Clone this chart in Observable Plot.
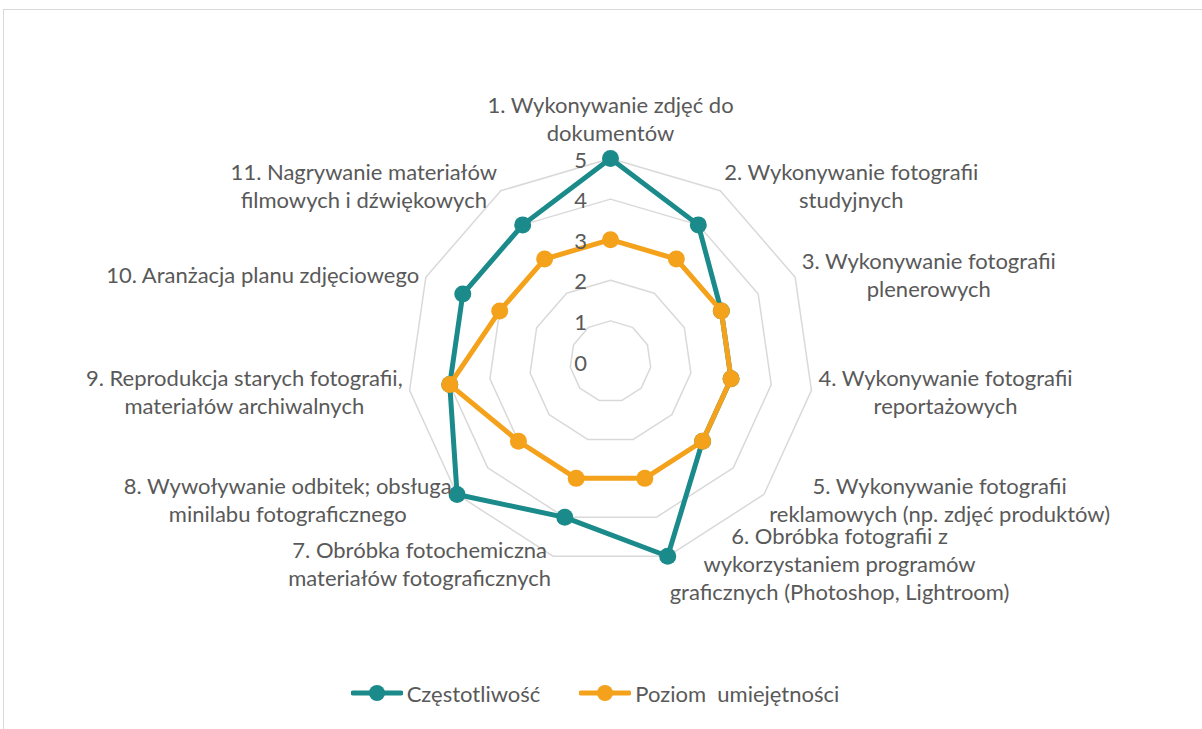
<!DOCTYPE html>
<html><head><meta charset="utf-8">
<script src="https://cdn.jsdelivr.net/npm/d3@7"></script>
<script src="https://cdn.jsdelivr.net/npm/@observablehq/plot@0.6"></script>
<style>
body{margin:0;background:#fff;font-family:Lato,sans-serif;}
#wrap{position:relative;width:1202px;height:729px;overflow:hidden;}
#frame{position:absolute;left:3px;top:9px;width:1300px;height:800px;border:1px solid #d9d9d9;box-sizing:border-box;pointer-events:none}
#chart svg{display:block}
#legend{height:42px;display:flex;justify-content:center;align-items:center;gap:39px;padding-right:12px;font-size:22px;color:#595959;font-family:Lato,sans-serif}
#legend .item{display:flex;align-items:center;gap:4px}
#legend .lbl{white-space:pre}
</style></head><body>
<div id="wrap"><div id="frame"></div><div id="chart"></div><div id="legend"></div></div>
<script>
const categories = [
  "1. Wykonywanie zdjęć do\ndokumentów",
  "2. Wykonywanie fotografii\nstudyjnych",
  "3. Wykonywanie fotografii\nplenerowych",
  "4. Wykonywanie fotografii\nreportażowych",
  "5. Wykonywanie fotografii\nreklamowych (np. zdjęć produktów)",
  "6. Obróbka fotografii z\nwykorzystaniem programów\ngraficznych (Photoshop, Lightroom)",
  "7. Obróbka fotochemiczna\nmateriałów fotograficznych",
  "8. Wywoływanie odbitek; obsługa\nminilabu fotograficznego",
  "9. Reprodukcja starych fotografii,\nmateriałów archiwalnych",
  "10. Aranżacja planu zdjęciowego",
  "11. Nagrywanie materiałów\nfilmowych i dźwiękowych"
];
const czestotliwosc = [5, 4, 3, 3, 3, 5, 4, 5, 4, 4, 4];
const poziom = [3, 3, 3, 3, 3, 3, 3, 3, 4, 3, 3];
const seriesNames = ["Częstotliwość", "Poziom  umiejętności"];
const seriesColors = ["#1b8a8a", "#f4a21b"];
const ticks = [0, 1, 2, 3, 4, 5];

const W = 1202, H = 672, cx = 610, cy = 361, R = 203;
const maxV = d3.max(ticks);
const K = R / maxV;
const FONT = 22, LH = 28 / 22;
const TEXT = "#595959", GRID = "#d9d9d9";
const n = categories.length;
const ang = i => 2 * Math.PI * i / n;
const px = (v, i) => v * Math.sin(ang(i));
const py = (v, i) => v * Math.cos(ang(i));

const grid = [];
for (const t of ticks.filter(t => t > 0))
  for (let i = 0; i <= n; i++) grid.push({level: t, x: px(t, i % n), y: py(t, i % n)});

const seriesData = [czestotliwosc, poziom].map((vals, s) => {
  const pts = [];
  for (let i = 0; i <= n; i++) pts.push({s: seriesNames[s], x: px(vals[i % n], i % n), y: py(vals[i % n], i % n), dot: i < n});
  return pts;
});

const ctx = document.createElement("canvas").getContext("2d");
ctx.font = `${FONT}px Lato`;
const labels = categories.map((c, i) => {
  const lines = c.split("\n");
  const w = Math.max(...lines.map(l => ctx.measureText(l).width));
  const h = lines.length * FONT * LH;
  const s = Math.sin(ang(i)), co = Math.cos(ang(i));
  let x, y;
  if (Math.abs(s) < 0.1) {
    const d = 12 / K;
    x = (maxV + d) * s; y = (maxV + d) * co + (h / 2) / K;
  } else {
    const d = 7 / K;
    x = (maxV + d) * s + Math.sign(s) * (w / 2) / K; y = (maxV + d) * co;
  }
  return {text: c, x, y};
});

const seriesMarks = seriesData.flatMap(pts => [
  Plot.line(pts, {x: "x", y: "y", stroke: "s", strokeWidth: 5, strokeLinejoin: "round"}),
  Plot.dot(pts.filter(d => d.dot), {x: "x", y: "y", fill: "s", r: 8.5})
]);

const chart = Plot.plot({
  width: W, height: H, margin: 0,
  x: {domain: [-maxV, maxV], range: [cx - R, cx + R], axis: null},
  y: {domain: [-maxV, maxV], range: [cy + R, cy - R], axis: null},
  color: {domain: seriesNames, range: seriesColors},
  style: {fontFamily: "Lato, sans-serif", fontSize: FONT + "px", color: TEXT, background: "transparent", overflow: "visible"},
  marks: [
    Plot.line(grid, {x: "x", y: "y", z: "level", stroke: GRID, strokeWidth: 1.5}),
    ...seriesMarks,
    Plot.text(labels, {x: "x", y: "y", text: "text", fill: TEXT, fontSize: FONT, lineHeight: LH, textAnchor: "middle", lineAnchor: "middle"}),
    Plot.text(ticks, {x: () => 0, y: d => d, text: d => String(d), dx: -30, dy: 2, fill: TEXT, fontSize: FONT})
  ]
});
document.getElementById("chart").appendChild(chart);

const legend = document.getElementById("legend");
seriesNames.forEach((name, i) => {
  const item = document.createElement("span");
  item.className = "item";
  item.innerHTML = `<svg width="52" height="20"><line x1="2" x2="50" y1="10" y2="10" stroke="${seriesColors[i]}" stroke-width="5" stroke-linecap="round"/><circle cx="26" cy="10" r="8" fill="${seriesColors[i]}"/></svg><span class="lbl"></span>`;
  item.querySelector(".lbl").textContent = name;
  legend.appendChild(item);
});
</script>
</body></html>
